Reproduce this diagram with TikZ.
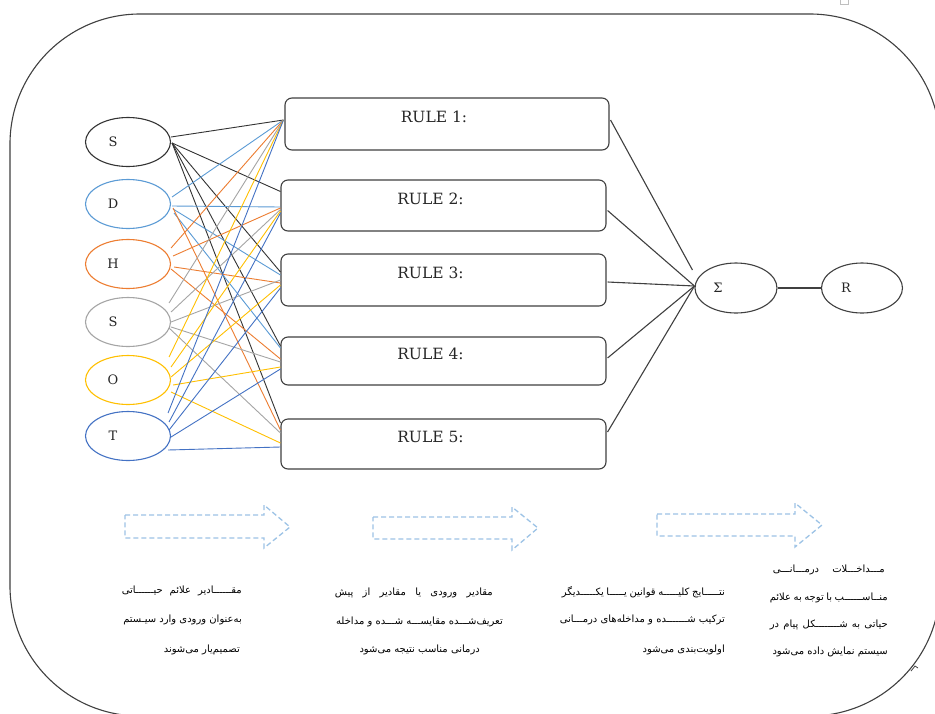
\documentclass[tikz,border=0pt]{standalone}
\usepackage{fontspec}
\usetikzlibrary{shapes.geometric,calc}
\newfontfamily\fa[Script=Arabic]{DejaVu Sans}
\newfontfamily\lsr{DejaVu Serif}
\TeXXeTstate=1
\definecolor{cS}{HTML}{333333}
\definecolor{cD}{HTML}{5B9BD5}
\definecolor{cH}{HTML}{ED7D31}
\definecolor{cG}{HTML}{A5A5A5}
\definecolor{cO}{HTML}{FFC000}
\definecolor{cT}{HTML}{4472C4}
\definecolor{frm}{HTML}{404040}
\definecolor{arr}{HTML}{9DC3E6}
\newcommand\jl[2]{\hbox to #1pt{\beginR #2\endR}}
\begin{document}
\begin{tikzpicture}[x=1pt,y=-1pt,
  inp/.style={ellipse, draw, line width=1.1pt, minimum width=85pt, minimum height=49pt, inner sep=0pt},
  rulebox/.style={draw=frm, line width=1.1pt, rounded corners=7pt, inner sep=0pt, minimum width=325pt},
  lab/.style={font=\lsr\fontsize{13}{16}\selectfont, inner sep=0pt, text=black!85},
  rlab/.style={font=\lsr\fontsize{15.5}{18}\selectfont, inner sep=0pt, text=black!85},
  conn/.style={line width=0.9pt},
  fat/.style={font=\fa\fontsize{10}{12}\selectfont, inner sep=0pt, anchor=east},
  blockarrow/.style={draw=arr, dash pattern=on 5pt off 3pt, line width=1.3pt, line join=miter},
]
\useasboundingbox (0,0) rectangle (935,713);
\fill[white] (0,0) rectangle (935,713);
\clip (0,0) rectangle (935,713);

% frame
\draw[frm, line width=1.1pt, rounded corners=130pt] (10,14) rectangle (940,716);
\draw[frm, line width=0.8pt] (911,671) -- (915,666) -- (918,668);
\draw[gray!50, line width=0.8pt] (840,-2) rectangle (848,4);

% input ellipses
\node[inp, draw=cS] (e1) at (128,142) {};
\node[inp, draw=cD] (e2) at (128,204) {};
\node[inp, draw=cH] (e3) at (128,264) {};
\node[inp, draw=cG] (e4) at (128,322) {};
\node[inp, draw=cO] (e5) at (128,380) {};
\node[inp, draw=cT] (e6) at (128,436) {};
\node[lab] (l1) at ($(e1)+(-15,0)$) {S};
\node[lab] (l2) at ($(e2)+(-15,0)$) {D};
\node[lab] (l3) at ($(e3)+(-15,0)$) {H};
\node[lab] (l4) at ($(e4)+(-15,0)$) {S};
\node[lab] (l5) at ($(e5)+(-15,0)$) {O};
\node[lab] (l6) at ($(e6)+(-15,0)$) {T};

% rule boxes
\node[rulebox, minimum width=324pt, minimum height=52pt] (r1) at (447,124) {};
\node[rulebox, minimum height=51pt] (r2) at (443.5,205.5) {};
\node[rulebox, minimum height=52pt] (r3) at (443.5,280) {};
\node[rulebox, minimum height=48pt] (r4) at (443.5,361) {};
\node[rulebox, minimum height=50pt] (r5) at (443.5,444) {};
\node[rlab] (t1) at ($(r1)+(-13,-7)$) {RULE 1:};
\node[rlab] (t2) at ($(r2)+(-13,-7)$) {RULE 2:};
\node[rlab] (t3) at ($(r3)+(-13,-7)$) {RULE 3:};
\node[rlab] (t4) at ($(r4)+(-13,-7)$) {RULE 4:};
\node[rlab] (t5) at ($(r5)+(-13,-7)$) {RULE 5:};

% sigma and R
\node[inp, draw=frm, minimum width=82pt, minimum height=50pt] (sg) at (736,288) {};
\node[inp, draw=frm, minimum width=81pt, minimum height=50pt] (rr) at (862,288) {};
\node[lab] (ls) at ($(sg)+(-18,0)$) {Σ};
\node[lab] (lr) at ($(rr)+(-16,0)$) {R};

% S (black)
\draw[conn, cS] ($(e1.east)+(0,-5)$) -- ($(r1.west)+(-1,-4)$);
\draw[conn, cS] ($(e1.east)+(1,1)$) -- ($(r2.west)+(0,-14)$);
\draw[conn, cS] ($(e1.east)+(1,1)$) -- ($(r3.west)+(0,-8)$);
\draw[conn, cS] ($(e1.east)+(1,1)$) -- ($(r4.west)+(0,-15)$);
\draw[conn, cS] ($(e1.east)+(1,1)$) -- ($(r5.west)+(0,-21)$);
% D (blue)
\draw[conn, cD] ($(e2.east)+(1,-7)$) -- ($(r1.west)+(-1,-4)$);
\draw[conn, cD] ($(e2.east)+(1,2)$) -- ($(r2.west)+(0,1.5)$);
\draw[conn, cD] ($(e2.east)+(2,5)$) -- ($(r3.west)+(0,-5)$);
\draw[conn, cD] ($(e2.east)+(3,9)$) -- ($(r4.west)+(0,-13)$);
\draw[conn, cH] ($(e2.east)+(2,4)$) -- ($(r5.west)+(0,-14)$);
% H (orange)
\draw[conn, cH] ($(e3.east)+(0,-16)$) -- ($(r1.west)+(-1,-4)$);
\draw[conn, cH] ($(e3.east)+(2,-8)$) -- ($(r2.west)+(0,2.5)$);
\draw[conn, cH] ($(e3.east)+(3,3)$) -- ($(r3.west)+(0,3)$);
\draw[conn, cH] ($(e3.east)+(0,5)$) -- ($(r4.west)+(0,-2)$);
% S (gray)
\draw[conn, cG] ($(e4.east)+(-2,-19)$) -- ($(r1.west)+(-1,-4)$);
\draw[conn, cG] ($(e4.east)+(0,-10)$) -- ($(r2.west)+(0,4)$);
\draw[conn, cG] ($(e4.east)+(0,0)$) -- ($(r3.west)+(0,0)$);
\draw[conn, cG] ($(e4.east)+(0,5)$) -- ($(r4.west)+(0,1)$);
\draw[conn, cG] ($(e4.east)+(-2,6)$) -- ($(r5.west)+(0,-11)$);
% O (yellow)
\draw[conn, cO] ($(e5.east)+(-2,-23)$) -- ($(r1.west)+(-1,-4)$);
\draw[conn, cO] ($(e5.east)+(0,-13)$) -- ($(r2.west)+(0,5.5)$);
\draw[conn, cO] ($(e5.east)+(0,-3)$) -- ($(r3.west)+(0,5)$);
\draw[conn, cO] ($(e5.east)+(2,5)$) -- ($(r4.west)+(0,6)$);
\draw[conn, cO] ($(e5.east)+(0,12)$) -- ($(r5.west)+(0,-1)$);
% T (blue)
\draw[conn, cT] ($(e6.east)+(-3,-23)$) -- ($(r1.west)+(-1,-4)$);
\draw[conn, cT] ($(e6.east)+(-2,-14)$) -- ($(r2.west)+(0,7.5)$);
\draw[conn, cT] ($(e6.east)+(-2,-6)$) -- ($(r3.west)+(0,8)$);
\draw[conn, cT] ($(e6.east)+(0,1)$) -- ($(r4.west)+(0,8)$);
\draw[conn, cT] ($(e6.east)+(-3,14)$) -- ($(r5.west)+(0,3)$);

% rules to sigma
\draw[conn, frm, line width=1.1pt] ($(r1.east)+(1,-4)$) -- ($(sg.west)+(-2,-18)$);
\draw[conn, frm, line width=1.1pt] ($(r2.east)+(1,5)$) -- ($(sg.west)+(0,-2)$);
\draw[conn, frm, line width=1.1pt] ($(r3.east)+(1,2)$) -- ($(sg.west)+(0,-2)$);
\draw[conn, frm, line width=1.1pt] ($(r4.east)+(1,-3)$) -- ($(sg.west)+(0,-2)$);
\draw[conn, frm, line width=1.1pt] ($(r5.east)+(1,-12)$) -- ($(sg.west)+(0,-2)$);
\draw[conn, frm, line width=1.1pt] (sg.east) -- (rr.west);

% dashed block arrows
\draw[blockarrow] (125,515) -- (264,515) -- (264,505) -- (290,527) -- (264,548) -- (264,538) -- (125,538) -- cycle;
\draw[blockarrow] (373,517) -- (512,517) -- (512,507) -- (538,528) -- (512,550) -- (512,539) -- (373,539) -- cycle;
\draw[blockarrow] (657,514) -- (795,514) -- (795,503) -- (822,525) -- (795,547) -- (795,536) -- (657,536) -- cycle;

% text block 1
\node[fat] (a1) at (242,591) {\jl{120}{مقــــــادیر\hfil علائم\hfil حیــــــاتی}};
\node[fat] (a2) at (242,620) {\beginR به^^^^200cعنوان ورودی وارد سیـستم\endR};
\node[fat] (a3) at (240,650) {\beginR تصمیم^^^^200cیار می^^^^200cشوند\endR};
% text block 2
\node[fat] (b1) at (493,593) {\jl{158}{مقادیر\hfil ورودی\hfil یا\hfil مقادیر\hfil از\hfil پیش}};
\node[fat] (b2) at (503,622) {\beginR تعریف^^^^200cشـــده مقایســـه شـــده و مداخله\endR};
\node[fat] (b3) at (480,650) {\beginR درمانی مناسب نتیجه می^^^^200cشود\endR};
% text block 3
\node[fat] (c1) at (725,592) {\jl{163}{نتـــــایج\hfil کلیـــــه\hfil قوانین\hfil یـــــا\hfil یکـــــدیگر}};
\node[fat] (c2) at (725,620) {\jl{165}{ترکیب\hfil شـــــــده\hfil و\hfil مداخله^^^^200cهای\hfil درمـــانی}};
\node[fat] (c3) at (725,650) {\beginR اولویت^^^^200cبندی می^^^^200cشود\endR};
% text block 4
\node[fat] (d1) at (885,570) {\jl{112}{مـــداخـــلات\hfil درمـــانـــی}};
\node[fat] (d2) at (888,598) {\jl{118}{منــاســــــب\hfil با\hfil توجه\hfil به\hfil علائم}};
\node[fat] (d3) at (888,625) {\jl{118}{حیاتی\hfil به\hfil شــــــــکل\hfil پیام\hfil در}};
\node[fat] (d4) at (888,652) {\beginR سیستم نمایش داده می^^^^200cشود\endR};
\end{tikzpicture}
\end{document}
